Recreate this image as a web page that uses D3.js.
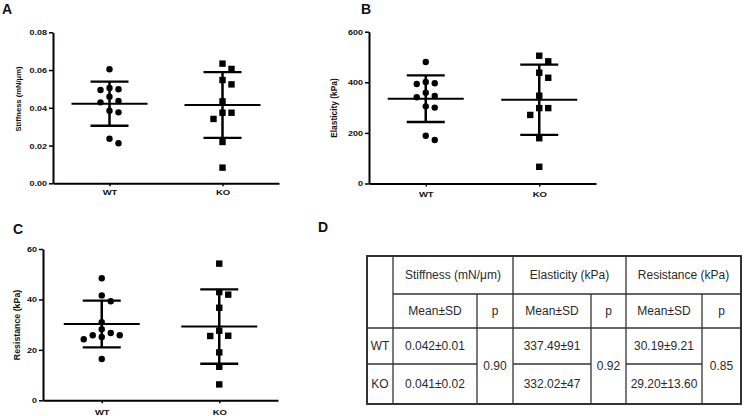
<!DOCTYPE html>
<html><head><meta charset="utf-8">
<script src="https://cdn.jsdelivr.net/npm/d3@7"></script>
<style>body{margin:0;background:#fff} svg{display:block}</style>
</head><body><svg id="c" width="744" height="416"></svg>
<script>
// ---------- data ----------
const groups = ["WT", "KO"];
const stiffnessWT = [0.0604, 0.0505, 0.0498, 0.0494, 0.0459, 0.0436, 0.0429, 0.0385, 0.0376, 0.0236, 0.0212];
const stiffnessKO = [0.0634, 0.0606, 0.0547, 0.0524, 0.0434, 0.0374, 0.0374, 0.0341, 0.0219, 0.0083];
const elasticityWT = [480, 401, 396, 393, 359, 346, 341, 305, 300, 189, 172];
const elasticityKO = [505, 483, 438, 418, 347, 298, 298, 271, 179, 66];
const resistanceWT = [48.4, 41.6, 39.3, 31.0, 28.2, 26.7, 25.8, 25.8, 25.1, 24.2, 16.4];
const resistanceKO = [54.2, 42.9, 41.9, 36.7, 27.6, 25.6, 25.5, 19.0, 13.3, 6.3];
const stiffnessMean = [0.0422, 0.0415], stiffnessSD = [0.0117, 0.0174];
const elasticityMean = [335, 331], elasticitySD = [92, 139];
const resistanceMean = [30.25, 29.25], resistanceSD = [9.25, 14.75];
const stiffnessTicks = [0, 0.02, 0.04, 0.06, 0.08];
const elasticityTicks = [0, 200, 400, 600];
const resistanceTicks = [0, 20, 40, 60];

const tableMeasures = ["Stiffness (mN/\u03bcm)", "Elasticity (kPa)", "Resistance (kPa)"];
const tableSub = ["Mean\u00b1SD", "p"];
const tableRows = ["WT", "KO"];
const tableWT = ["0.042\u00b10.01", "337.49\u00b191", "30.19\u00b19.21"];
const tableKO = ["0.041\u00b10.02", "332.02\u00b147", "29.20\u00b113.60"];
const tableP = ["0.90", "0.92", "0.85"];

// ---------- drawing ----------
const svg = d3.select("#c");
const FONT = "Arial, 'Liberation Sans', sans-serif";

function dodge(vals, y, step, diam) {
  const pts = vals.map((v, i) => ({ v, i, py: y(v) })).sort((a, b) => a.py - b.py);
  const placed = [];
  const cands = [0, step, -step, 2 * step, -2 * step, 3 * step, -3 * step];
  for (const p of pts) {
    for (const c of cands) {
      if (placed.every(q => Math.hypot(q.dx - c, q.py - p.py) >= diam)) { p.dx = c; break; }
    }
    placed.push(p);
  }
  return pts;
}

function panel(cfg) {
  const g = svg.append("g");
  const y = d3.scaleLinear().domain([0, cfg.ticks[cfg.ticks.length - 1]]).range([cfg.yBot, cfg.yTop]);
  const x = d3.scalePoint().domain(groups).range([cfg.x0, cfg.x1]).padding(0.5);

  const ya = g.append("g").attr("transform", `translate(${cfg.x0},0)`)
    .call(d3.axisLeft(y).tickValues(cfg.ticks).tickFormat(cfg.fmt).tickSize(4).tickSizeOuter(0).tickPadding(2));
  const xa = g.append("g").attr("transform", `translate(0,${cfg.yBot})`)
    .call(d3.axisBottom(x).tickSize(3).tickSizeOuter(0).tickPadding(cfg.xPad));
  [ya, xa].forEach(a => {
    a.select(".domain").attr("stroke", "#000").attr("stroke-width", 2);
    a.selectAll(".tick line").attr("stroke", "#000").attr("stroke-width", 1.5);
    a.selectAll("text").attr("font-family", FONT).attr("font-weight", "bold").attr("fill", "#111");
  });
  ya.selectAll("text").attr("font-size", 9).attr("transform", "scale(1,0.85)");
  xa.selectAll("text").attr("font-size", 9.5).attr("transform", "scale(1,0.82)");

  // title
  g.append("text")
    .attr("transform", `translate(${cfg.tx},${cfg.ty}) rotate(-90)`)
    .attr("text-anchor", "middle").attr("dominant-baseline", "central")
    .attr("font-family", FONT).attr("font-weight", "bold").attr("font-size", cfg.tSize).attr("fill", "#111")
    .text(cfg.title);

  // points
  cfg.series.forEach((vals, gi) => {
    const cx = x(groups[gi]);
    const pts = dodge(vals, y, 9, 7);
    if (gi === 0) {
      g.selectAll(null).data(pts).enter().append("circle")
        .attr("cx", d => cx + d.dx).attr("cy", d => d.py).attr("r", 3.2).attr("fill", "#000");
    } else {
      g.selectAll(null).data(pts).enter().append("rect")
        .attr("x", d => cx + d.dx - 3.2).attr("y", d => d.py - 3.2).attr("width", 6.4).attr("height", 6.4).attr("fill", "#000");
    }
    const m = cfg.mean[gi], s = cfg.sd[gi];
    g.append("line").attr("x1", cx).attr("x2", cx).attr("y1", y(m - s)).attr("y2", y(m + s))
      .attr("stroke", "#000").attr("stroke-width", 2.5);
    [m - s, m + s].forEach(v => g.append("line").attr("x1", cx - 19).attr("x2", cx + 19)
      .attr("y1", y(v)).attr("y2", y(v)).attr("stroke", "#000").attr("stroke-width", 2.3));
    g.append("line").attr("x1", cx - 38).attr("x2", cx + 38).attr("y1", y(m)).attr("y2", y(m))
      .attr("stroke", "#000").attr("stroke-width", 2);
  });
}

panel({ x0: 53, x1: 279, yTop: 32.3, yBot: 183.3, ticks: stiffnessTicks, fmt: d3.format(".2f"),
  series: [stiffnessWT, stiffnessKO], mean: stiffnessMean, sd: stiffnessSD,
  title: "Stiffness (mN/\u03bcm)", tx: 18, ty: 99, tSize: 7.6, xPad: 4 });
panel({ x0: 369, x1: 596, yTop: 31.7, yBot: 183.5, ticks: elasticityTicks, fmt: d3.format("d"),
  series: [elasticityWT, elasticityKO], mean: elasticityMean, sd: elasticitySD,
  title: "Elasticity (kPa)", tx: 334, ty: 108, tSize: 8.4, xPad: 7 });
panel({ x0: 43, x1: 278, yTop: 249, yBot: 400.3, ticks: resistanceTicks, fmt: d3.format("d"),
  series: [resistanceWT, resistanceKO], mean: resistanceMean, sd: resistanceSD,
  title: "Resistance (kPa)", tx: 17, ty: 325, tSize: 8.8, xPad: 8 });

// panel letters
[["A", 2, 14], ["B", 361, 14], ["C", 13, 234], ["D", 318, 232]].forEach(([t, lx, ly]) =>
  svg.append("text").attr("x", lx).attr("y", ly).attr("font-family", FONT).attr("font-weight", "bold")
    .attr("font-size", 14).attr("fill", "#111").text(t));

// ---------- table ----------
const xs = [367, 393, 477, 513, 591, 626, 702, 741];
const ys = [256, 294, 328, 364, 404];
const T = svg.append("g").attr("stroke", "#333").attr("stroke-width", 1.3);
function seg(x1, y1, x2, y2) { T.append("line").attr("x1", x1).attr("y1", y1).attr("x2", x2).attr("y2", y2); }
T.append("rect").attr("x", xs[0]).attr("y", ys[0]).attr("width", xs[7] - xs[0]).attr("height", ys[4] - ys[0])
  .attr("fill", "none").attr("stroke-width", 2);
seg(xs[1], ys[0], xs[1], ys[4]);
[3, 5].forEach(i => seg(xs[i], ys[0], xs[i], ys[4]));
[2, 4, 6].forEach(i => seg(xs[i], ys[1], xs[i], ys[4]));
seg(xs[1], ys[1], xs[7], ys[1]);
seg(xs[0], ys[2], xs[7], ys[2]);
seg(xs[0], ys[3], xs[2], ys[3]);
seg(xs[3], ys[3], xs[4], ys[3]);
seg(xs[5], ys[3], xs[6], ys[3]);

function cell(t, xa, xb, ya, yb) {
  svg.append("text").attr("x", (xa + xb) / 2).attr("y", (ya + yb) / 2)
    .attr("text-anchor", "middle").attr("dominant-baseline", "central")
    .attr("font-family", FONT).attr("font-size", 12).attr("fill", "#2a2a2a").text(t);
}
tableMeasures.forEach((t, k) => {
  const a = xs[1 + 2 * k], m = xs[2 + 2 * k], b = xs[3 + 2 * k];
  cell(t, a, b, ys[0], ys[1]);
  cell(tableSub[0], a, m, ys[1], ys[2]);
  cell(tableSub[1], m, b, ys[1], ys[2]);
  cell(tableWT[k], a, m, ys[2], ys[3]);
  cell(tableKO[k], a, m, ys[3], ys[4]);
  cell(tableP[k], m, b, ys[2], ys[4]);
});
tableRows.forEach((t, r) => cell(t, xs[0], xs[1], ys[2 + r], ys[3 + r]));
</script>
</body></html>
